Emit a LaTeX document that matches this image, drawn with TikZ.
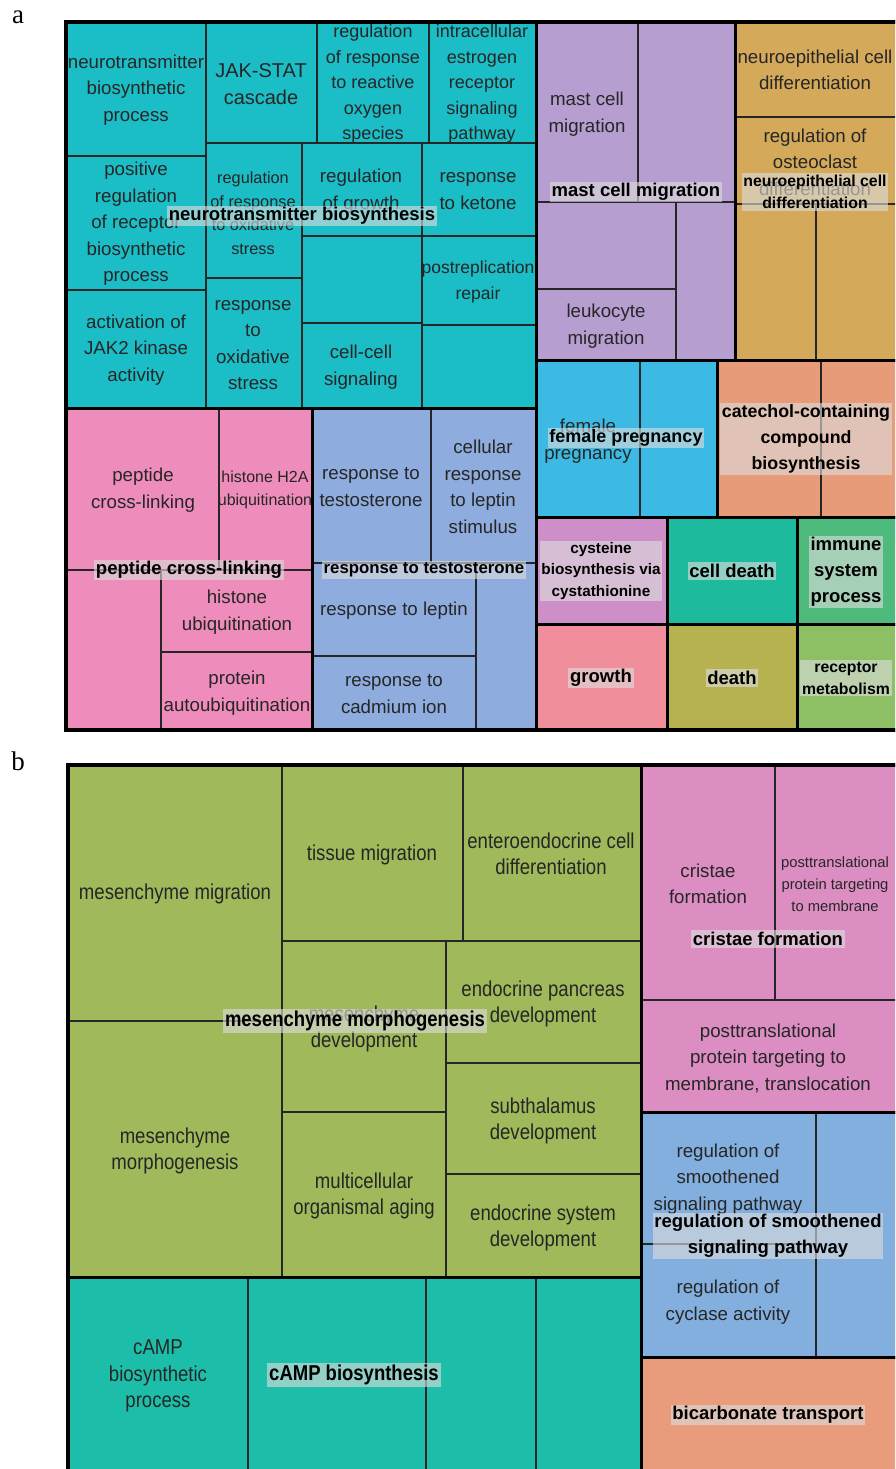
\documentclass[tikz,border=0pt]{standalone}
\usepackage{fontspec}
\setmainfont{Liberation Sans}
\newfontfamily\letterfont{Liberation Serif}
\newfontfamily\narrowfont[FakeStretch=0.86]{Liberation Sans}
\definecolor{cteal}{HTML}{1BBDC6}
\definecolor{cpurple}{HTML}{B79ED0}
\definecolor{cgold}{HTML}{D4A95A}
\definecolor{cblue}{HTML}{3DBAE3}
\definecolor{csalmon}{HTML}{E89B79}
\definecolor{cpink}{HTML}{EE8DBB}
\definecolor{clav}{HTML}{8EACDE}
\definecolor{cmauve}{HTML}{CE8FC8}
\definecolor{ccelldeath}{HTML}{1DBA9D}
\definecolor{cimmune}{HTML}{4EBB7C}
\definecolor{cgrowth}{HTML}{F08F9B}
\definecolor{cdeath}{HTML}{B6B24F}
\definecolor{creceptor}{HTML}{8DC064}
\definecolor{cgreen}{HTML}{A0B95B}
\definecolor{cbpink}{HTML}{DC8EC2}
\definecolor{cbblue}{HTML}{83AFDF}
\definecolor{cborange}{HTML}{E89C7B}
\definecolor{cbteal}{HTML}{1DBEA9}
\definecolor{labbg}{HTML}{DCDCDC}
\tikzset{
  inner/.style={line width=1.2pt, draw=black!85},
  grp/.style={line width=3pt, draw=black},
  outer/.style={line width=4pt, draw=black},
  lab/.style={align=center, font=\fontsize{18.7}{26.5}\selectfont, text=black!85, inner sep=0pt},
  smalllab/.style={lab, font=\fontsize{16}{22.5}\selectfont},
  narrowlab/.style={lab, font=\narrowfont\fontsize{21.6}{26.5}\selectfont},
  big/.style={align=center, font=\bfseries\fontsize{18.5}{26}\selectfont, text=black, fill=labbg, fill opacity=0.62, text opacity=1, inner sep=1.8pt},
  bigsmall/.style={big, font=\bfseries\fontsize{15.8}{22}\selectfont},
  bignarrow/.style={big, font=\narrowfont\bfseries\fontsize{21.5}{26}\selectfont},
  letter/.style={font=\letterfont\fontsize{27}{30}\selectfont, inner sep=0pt}
}
\begin{document}
\begin{tikzpicture}[x=1pt,y=-1pt]
\useasboundingbox (0,0) rectangle (895,1469);
\clip (0,0) rectangle (895,1469);
% ---------- panel a ----------
\node[letter] (la) at (18,17) {a};
\fill[cteal] (66,22) rectangle (536,408);
\fill[cpurple] (536,22) rectangle (735,360);
\fill[cgold] (735,22) rectangle (899,360);
\fill[cblue] (536,360) rectangle (717,517);
\fill[csalmon] (717,360) rectangle (899,517);
\fill[cpink] (66,408) rectangle (312,730);
\fill[clav] (312,408) rectangle (536,730);
\fill[cmauve] (536,517) rectangle (667,624);
\fill[ccelldeath] (667,517) rectangle (797,624);
\fill[cimmune] (797,517) rectangle (899,624);
\fill[cgrowth] (536,624) rectangle (667,730);
\fill[cdeath] (667,624) rectangle (797,730);
\fill[creceptor] (797,624) rectangle (899,730);
% teal inner lines
\draw[inner] (206,22) -- (206,408);
\draw[inner] (66,156) -- (206,156);
\draw[inner] (66,290) -- (206,290);
\draw[inner] (206,143) -- (536,143);
\draw[inner] (317,22) -- (317,143);
\draw[inner] (429,22) -- (429,143);
\draw[inner] (302,143) -- (302,408);
\draw[inner] (206,278) -- (302,278);
\draw[inner] (422,143) -- (422,408);
\draw[inner] (302,236) -- (536,236);
\draw[inner] (302,323) -- (422,323);
\draw[inner] (422,325) -- (536,325);
% purple
\draw[inner] (638,22) -- (638,202);
\draw[inner] (536,202) -- (735,202);
\draw[inner] (676,202) -- (676,360);
\draw[inner] (536,289) -- (676,289);
% gold
\draw[inner] (735,117) -- (899,117);
\draw[inner] (735,204) -- (899,204);
\draw[inner] (816,204) -- (816,360);
% blue, salmon
\draw[inner] (640,360) -- (640,517);
\draw[inner] (821,360) -- (821,517);
% pink
\draw[inner] (219,408) -- (219,570);
\draw[inner] (66,570) -- (312,570);
\draw[inner] (161,570) -- (161,730);
\draw[inner] (161,652) -- (312,652);
% lavender
\draw[inner] (431,408) -- (431,563);
\draw[inner] (312,563) -- (536,563);
\draw[inner] (476,563) -- (476,730);
\draw[inner] (312,656) -- (476,656);
% group borders
\draw[grp] (66,22) rectangle (536,408);
\draw[grp] (536,22) rectangle (735,360);
\draw[grp] (735,22) rectangle (899,360);
\draw[grp] (536,360) rectangle (717,517);
\draw[grp] (717,360) rectangle (899,517);
\draw[grp] (66,408) rectangle (312,730);
\draw[grp] (312,408) rectangle (536,730);
\draw[grp] (536,517) rectangle (667,624);
\draw[grp] (667,517) rectangle (797,624);
\draw[grp] (797,517) rectangle (899,624);
\draw[grp] (536,624) rectangle (667,730);
\draw[grp] (667,624) rectangle (797,730);
\draw[grp] (797,624) rectangle (899,730);
\draw[outer] (66,22) rectangle (901,730);
% normal texts a
\node[lab] (a1) at (136,90) {neurotransmitter\\biosynthetic\\process};
\node[lab, font=\fontsize{20}{27}\selectfont] (a2) at (261,84) {JAK-STAT\\cascade};
\node[lab, font=\fontsize{18}{25.5}\selectfont] (a3) at (373,84) {regulation\\of response\\to reactive\\oxygen\\species};
\node[lab, font=\fontsize{18}{25.5}\selectfont] (a4) at (482,84) {intracellular\\estrogen\\receptor\\signaling\\pathway};
\node[lab] (a5) at (136,224) {positive\\regulation\\of receptor\\biosynthetic\\process};
\node[lab, font=\fontsize{16.3}{23.5}\selectfont] (a6) at (253,213) {regulation\\of response\\to oxidative\\stress};
\node[lab] (a7) at (361,191) {regulation\\of growth};
\node[lab] (a8) at (478,191) {response\\to ketone};
\node[lab, font=\fontsize{17.5}{26}\selectfont] (a9) at (478,282) {postreplication\\repair};
\node[lab] (a10) at (136,350) {activation of\\JAK2 kinase\\activity};
\node[lab] (a11) at (253,345) {response\\to\\oxidative\\stress};
\node[lab] (a12) at (361,367) {cell-cell\\signaling};
\node[lab] (a13) at (587,114) {mast cell\\migration};
\node[lab] (a14) at (606,326) {leukocyte\\migration};
\node[lab] (a15) at (815,70) {neuroepithelial cell\\differentiation};
\node[lab] (a16) at (815,162) {regulation of\\osteoclast\\differentiation};
\node[lab] (a17) at (588,441) {female\\pregnancy};
\node[lab] (a18) at (143,490) {peptide\\cross-linking};
\node[smalllab] (a19) at (265,490) {histone H2A\\ubiquitination};
\node[lab] (a20) at (237,612) {histone\\ubiquitination};
\node[lab] (a21) at (237,693) {protein\\autoubiquitination};
\node[lab] (a22) at (371,487) {response to\\testosterone};
\node[lab] (a23) at (483,487) {cellular\\response\\to leptin\\stimulus};
\node[lab] (a24) at (394,611) {response to leptin};
\node[lab] (a25) at (394,694) {response to\\cadmium ion};
% bold labels a
\node[big] (b1) at (302,216) {neurotransmitter biosynthesis};
\node[big] (b2) at (636,192) {mast cell migration};
\node[bigsmall] (b3) at (815,192) {neuroepithelial cell\\differentiation};
\node[big, font=\bfseries\fontsize{18}{26}\selectfont] (b4) at (626,438) {female pregnancy};
\node[big, font=\bfseries\fontsize{17.8}{26}\selectfont] (b5) at (806,439) {catechol-containing\\compound\\biosynthesis};
\node[big] (b6) at (189,570) {peptide cross-linking};
\node[big, font=\bfseries\fontsize{16.8}{24}\selectfont] (b7) at (424,570) {response to testosterone};
\node[bigsmall, font=\bfseries\fontsize{15.3}{21.5}\selectfont] (b8) at (601,571) {cysteine\\biosynthesis via\\cystathionine};
\node[big] (b9) at (732,571) {cell death};
\node[big] (b10) at (846,572) {immune\\system\\process};
\node[big] (b11) at (601,678) {growth};
\node[big] (b12) at (732,678) {death};
\node[bigsmall] (b13) at (846,678) {receptor\\metabolism};
% ---------- panel b ----------
\node[letter] (lb) at (18,761) {b};
\fill[cgreen] (68,765) rectangle (641,1277);
\fill[cbpink] (641,765) rectangle (899,1112);
\fill[cbblue] (641,1112) rectangle (899,1357);
\fill[cborange] (641,1357) rectangle (899,1475);
\fill[cbteal] (68,1277) rectangle (641,1475);
\draw[inner] (282,765) -- (282,1277);
\draw[inner] (68,1021) -- (282,1021);
\draw[inner] (282,941) -- (641,941);
\draw[inner] (463,765) -- (463,941);
\draw[inner] (446,941) -- (446,1277);
\draw[inner] (282,1112) -- (446,1112);
\draw[inner] (446,1063) -- (641,1063);
\draw[inner] (446,1174) -- (641,1174);
\draw[inner] (775,765) -- (775,1000);
\draw[inner] (641,1000) -- (899,1000);
\draw[inner] (816,1112) -- (816,1357);
\draw[inner] (641,1244) -- (816,1244);
\draw[inner] (248,1277) -- (248,1475);
\draw[inner] (426,1277) -- (426,1475);
\draw[inner] (536,1277) -- (536,1475);
\draw[grp] (68,765) rectangle (641,1277);
\draw[grp] (641,765) rectangle (899,1112);
\draw[grp] (641,1112) rectangle (899,1357);
\draw[grp] (641,1357) rectangle (899,1475);
\draw[grp] (68,1277) rectangle (641,1475);
\draw[outer] (68,765) rectangle (901,1478);
% normal texts b
\node[narrowlab] (c1) at (175,894) {mesenchyme migration};
\node[narrowlab] (c2) at (372,855) {tissue migration};
\node[narrowlab] (c3) at (551,854) {enteroendocrine cell\\differentiation};
\node[narrowlab] (c4) at (364,1029) {mesenchyme\\development};
\node[narrowlab] (c5) at (543,1004) {endocrine pancreas\\development};
\node[narrowlab] (c6) at (175,1151) {mesenchyme\\morphogenesis};
\node[narrowlab] (c7) at (543,1121) {subthalamus\\development};
\node[narrowlab] (c8) at (364,1196) {multicellular\\organismal aging};
\node[narrowlab] (c9) at (543,1228) {endocrine system\\development};
\node[narrowlab] (c10) at (158,1376) {cAMP\\biosynthetic\\process};
\node[lab] (c11) at (708,884) {cristae\\formation};
\node[lab, font=\fontsize{14.8}{22}\selectfont] (c12) at (835,884) {posttranslational\\protein targeting\\to membrane};
\node[lab] (c13) at (768,1058) {posttranslational\\protein targeting to\\membrane, translocation};
\node[lab] (c14) at (728,1179) {regulation of\\smoothened\\signaling pathway};
\node[lab] (c15) at (728,1302) {regulation of\\cyclase activity};
% bold labels b
\node[bignarrow] (d1) at (355,1021) {mesenchyme morphogenesis};
\node[big] (d2) at (768,939) {cristae formation};
\node[big] (d3) at (768,1236) {regulation of smoothened\\signaling pathway};
\node[big] (d4) at (768,1415) {bicarbonate transport};
\node[bignarrow] (d5) at (354,1375) {cAMP biosynthesis};
\end{tikzpicture}
\end{document}
